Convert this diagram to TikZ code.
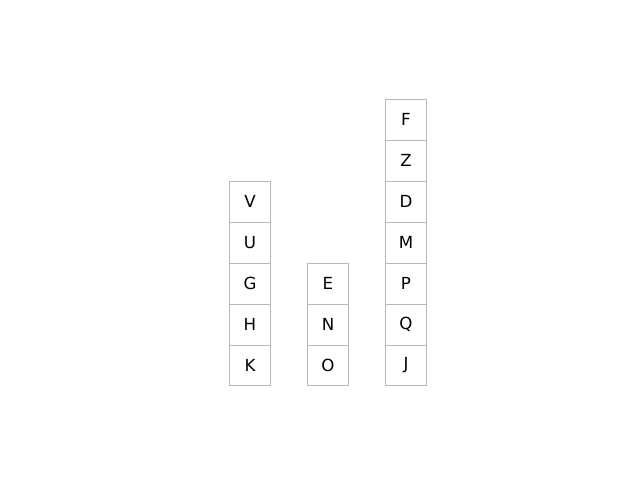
\documentclass[tikz,border=0pt]{standalone}
\usepackage{fontspec}
\setmainfont{DejaVu Sans}
\usetikzlibrary{positioning}

\begin{document}
\begin{tikzpicture}[x=0.72pt, y=-0.72pt,
        node distance=0pt,
        block/.style={draw=black!28, line width=0.72pt, minimum width=30.2pt,
                      minimum height=29.5pt, inner sep=0pt, outer sep=0pt,
                      font=\fontsize{12}{14}\selectfont}]

        \useasboundingbox (0, 0) rectangle (640, 480);

        % First stack
        \node[block] at (250, 365.5) (k) {K};
        \node[block, above=of k]     (h) {H};
        \node[block, above=of h]     (g) {G};
        \node[block, above=of g]     (u) {U};
        \node[block, above=of u]     (v) {V};

        % Second stack
        \node[block] at (328, 365.5) (o) {O};
        \node[block, above=of o]     (n) {N};
        \node[block, above=of n]     (e) {E};

        % Third stack
        \node[block] at (406, 365.5) (j) {J};
        \node[block, above=of j]     (q) {Q};
        \node[block, above=of q]     (p) {P};
        \node[block, above=of p]     (m) {M};
        \node[block, above=of m]     (d) {D};
        \node[block, above=of d]     (z) {Z};
        \node[block, above=of z]     (f) {F};
    \end{tikzpicture}
\end{document}
